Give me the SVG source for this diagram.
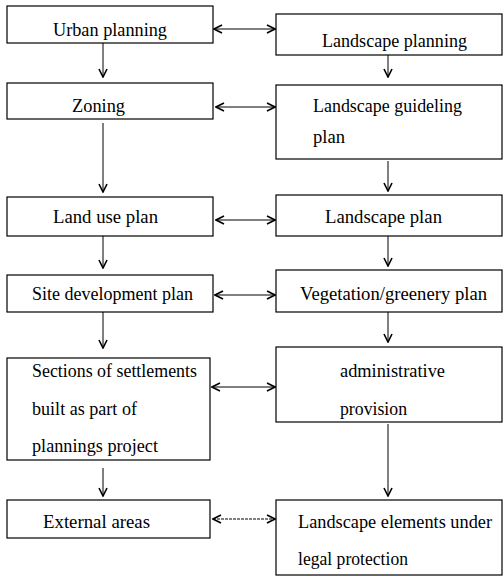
<svg xmlns="http://www.w3.org/2000/svg" width="503" height="576" viewBox="0 0 503 576">
  <style>
    .box { fill: #fff; stroke: #000; stroke-width: 1.2; }
    .lbl { font-family: 'Liberation Serif', 'DejaVu Serif', serif; font-size: 18.5px; fill: #000; }
    .link { stroke: #000; stroke-width: 1; fill: none; }
  </style>
  <defs>
    <marker id="head" viewBox="0 0 10 10" refX="9" refY="5" markerWidth="10" markerHeight="10" markerUnits="userSpaceOnUse" orient="auto-start-reverse">
      <path d="M1,1 L9,5 L1,9" fill="none" stroke="#000" stroke-width="1.6"/>
    </marker>
  </defs>
  <rect width="503" height="576" fill="#fff"/>

  <!-- left column -->
  <g id="urban-planning">
    <rect class="box" x="7" y="6" width="206" height="37"/>
    <text class="lbl" x="53" y="36" textLength="114" lengthAdjust="spacingAndGlyphs">Urban planning</text>
  </g>
  <g id="zoning">
    <rect class="box" x="7" y="83" width="206" height="36"/>
    <text class="lbl" x="72" y="112" textLength="53" lengthAdjust="spacingAndGlyphs">Zoning</text>
  </g>
  <g id="land-use-plan">
    <rect class="box" x="7" y="197" width="206" height="39"/>
    <text class="lbl" x="53" y="223" textLength="105" lengthAdjust="spacingAndGlyphs">Land use plan</text>
  </g>
  <g id="site-development-plan">
    <rect class="box" x="7" y="275" width="206" height="37"/>
    <text class="lbl" x="32" y="300" textLength="161" lengthAdjust="spacingAndGlyphs">Site development plan</text>
  </g>
  <g id="sections-of-settlements">
    <rect class="box" x="7" y="358" width="203" height="102"/>
    <text class="lbl" x="32" y="377" textLength="165" lengthAdjust="spacingAndGlyphs">Sections of settlements</text>
    <text class="lbl" x="32" y="415" textLength="105" lengthAdjust="spacingAndGlyphs">built as part of</text>
    <text class="lbl" x="32" y="452" textLength="126" lengthAdjust="spacingAndGlyphs">plannings project</text>
  </g>
  <g id="external-areas">
    <rect class="box" x="7" y="500" width="203" height="38"/>
    <text class="lbl" x="43" y="528" textLength="107" lengthAdjust="spacingAndGlyphs">External areas</text>
  </g>

  <!-- right column -->
  <g id="landscape-planning">
    <rect class="box" x="276" y="14" width="226" height="41"/>
    <text class="lbl" x="322" y="47" textLength="145" lengthAdjust="spacingAndGlyphs">Landscape planning</text>
  </g>
  <g id="landscape-guideling-plan">
    <rect class="box" x="276" y="85" width="226" height="74"/>
    <text class="lbl" x="313" y="112" textLength="149" lengthAdjust="spacingAndGlyphs">Landscape guideling</text>
    <text class="lbl" x="313" y="143" textLength="32" lengthAdjust="spacingAndGlyphs">plan</text>
  </g>
  <g id="landscape-plan">
    <rect class="box" x="276" y="195" width="226" height="41"/>
    <text class="lbl" x="325" y="223" textLength="117" lengthAdjust="spacingAndGlyphs">Landscape plan</text>
  </g>
  <g id="vegetation-greenery-plan">
    <rect class="box" x="276" y="270" width="226" height="42"/>
    <text class="lbl" x="300" y="300" textLength="187" lengthAdjust="spacingAndGlyphs">Vegetation/greenery plan</text>
  </g>
  <g id="administrative-provision">
    <rect class="box" x="276" y="347" width="226" height="75"/>
    <text class="lbl" x="340" y="377" textLength="105" lengthAdjust="spacingAndGlyphs">administrative</text>
    <text class="lbl" x="340" y="415" textLength="67" lengthAdjust="spacingAndGlyphs">provision</text>
  </g>
  <g id="landscape-elements">
    <rect class="box" x="276" y="500" width="226" height="75"/>
    <text class="lbl" x="298" y="528" textLength="194" lengthAdjust="spacingAndGlyphs">Landscape elements under</text>
    <text class="lbl" x="298" y="565" textLength="110" lengthAdjust="spacingAndGlyphs">legal protection</text>
  </g>

  <!-- connectors -->
  <g id="connectors">
    <!-- downward flow, left column -->
    <line class="link" x1="103" y1="43" x2="103" y2="77" marker-end="url(#head)"/>
    <line class="link" x1="103" y1="123" x2="103" y2="192" marker-end="url(#head)"/>
    <line class="link" x1="103" y1="236" x2="103" y2="268" marker-end="url(#head)"/>
    <line class="link" x1="103" y1="312" x2="103" y2="348" marker-end="url(#head)"/>
    <line class="link" x1="103" y1="468" x2="103" y2="496" marker-end="url(#head)"/>
    <!-- downward flow, right column -->
    <line class="link" x1="388" y1="55" x2="388" y2="77" marker-end="url(#head)"/>
    <line class="link" x1="388" y1="161" x2="388" y2="191" marker-end="url(#head)"/>
    <line class="link" x1="388" y1="236" x2="388" y2="266" marker-end="url(#head)"/>
    <line class="link" x1="388" y1="312" x2="388" y2="342" marker-end="url(#head)"/>
    <line class="link" x1="388" y1="424" x2="388" y2="496" marker-end="url(#head)"/>
    <!-- two-way links between columns -->
    <line class="link" x1="214" y1="29" x2="275" y2="29" marker-start="url(#head)" marker-end="url(#head)"/>
    <line class="link" x1="216" y1="107" x2="275" y2="107" marker-start="url(#head)" marker-end="url(#head)"/>
    <line class="link" x1="216" y1="220" x2="275" y2="220" marker-start="url(#head)" marker-end="url(#head)"/>
    <line class="link" x1="215" y1="295" x2="275" y2="295" marker-start="url(#head)" marker-end="url(#head)"/>
    <line class="link" x1="212" y1="387" x2="275" y2="387" marker-start="url(#head)" marker-end="url(#head)"/>
    <line class="link" x1="213" y1="519" x2="275" y2="519" marker-start="url(#head)" marker-end="url(#head)" stroke-dasharray="3 1"/>
  </g>
</svg>
